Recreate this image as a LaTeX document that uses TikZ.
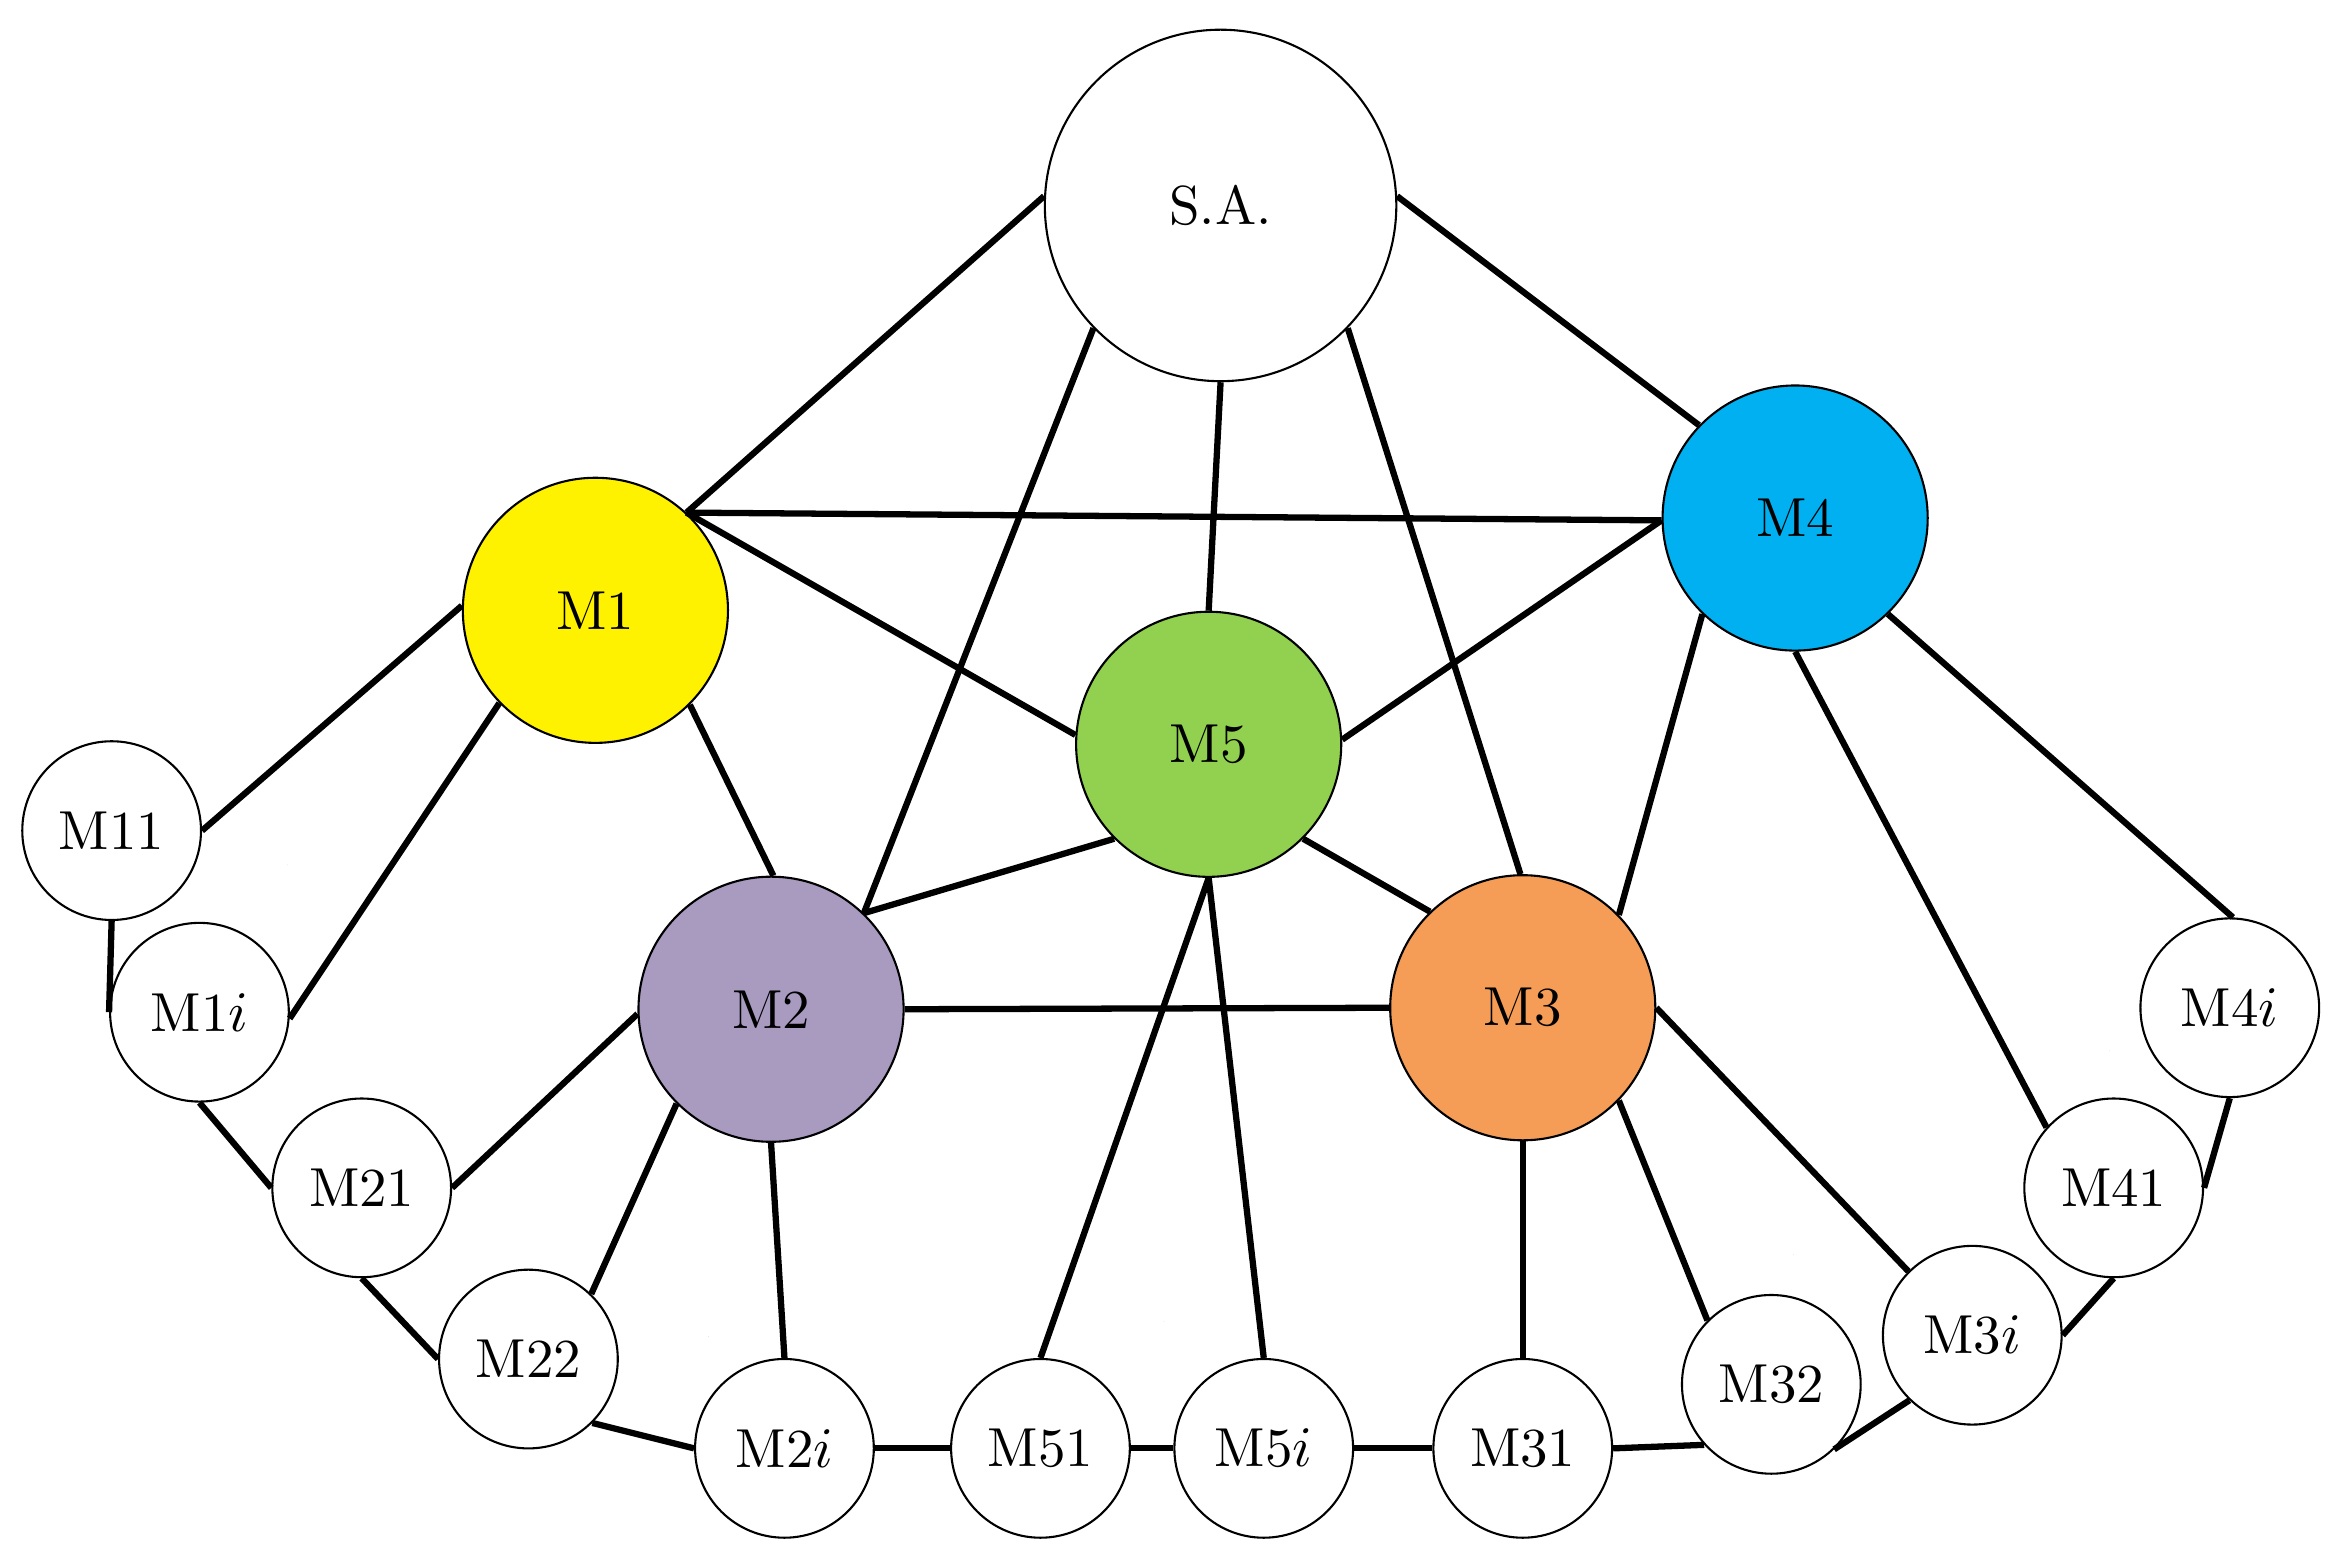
\documentclass[tikz,border=0pt]{standalone}
\begin{document}
\begin{tikzpicture}[x=0.01cm,y=-0.01cm,
  n/.style={circle,draw,line width=0.4pt,inner sep=0pt,font=\fontsize{10.5}{12}\selectfont},
  big/.style={n,minimum size=1.78cm},
  sm/.style={n,minimum size=1.2cm},
  e/.style={line width=1.2pt},
  dots/.pic={\foreach \k in {-1,0,1} \fill (\k*0.11,0) circle (0.025);}]
\useasboundingbox (0,0) rectangle (1568,1050);
\definecolor{cM4}{HTML}{00B0F0}\definecolor{cM5}{HTML}{92D050}
\definecolor{cM2}{HTML}{A99BC0}\definecolor{cM3}{HTML}{F59D57}
\node[n,minimum size=2.36cm] (SA) at (820,138) {S.A.};
\node[big,fill=yellow] (M1) at (400,410) {M1};
\node[big,fill=cM4] (M4) at (1206,348) {M4};
\node[big,fill=cM5] (M5) at (812,500) {M5};
\node[big,fill=cM2] (M2) at (518,678) {M2};
\node[big,fill=cM3] (M3) at (1023,677) {M3};
\node[sm] (M11) at (75,558) {M11};
\node[sm] (M1i) at (134,680) {M1$i$};
\node[sm] (M21) at (243,798) {M21};
\node[sm] (M22) at (355,913) {M22};
\node[sm] (M2i) at (527,973) {M2$i$};
\node[sm] (M51) at (699,973) {M51};
\node[sm] (M5i) at (849,973) {M5$i$};
\node[sm] (M31) at (1023,973) {M31};
\node[sm] (M32) at (1190,930) {M32};
\node[sm] (M3i) at (1325,897) {M3$i$};
\node[sm] (M41) at (1420,798) {M41};
\node[sm] (M4i) at (1498,677) {M4$i$};
\foreach \a/\b in {SA.177/M1.47,SA.3/M4.136,SA.224/M2.46,SA.270/M5.90,SA.316/M3.91,
  M1.47/M4.181,M1.47/M5.176,M1.-45/M2.89,M1.178/M11.0,M1.224/M1i.-4,
  M4.181/M5.2,M4.226/M3.44,M4.270/M41.138,M4.-46/M4i.88,
  M5.225/M2.46,M5.-45/M3.134,M5.270/M51.90,M5.270/M5i.90,
  M2.0/M3.180,M2.182/M21.0,M2.225/M22.46,M2.270/M2i.90,
  M3.270/M31.90,M3.-44/M32.135,M3.0/M3i.135,
  M11.270/M1i.180,M1i.270/M21.180,M21.270/M22.180,M22.-45/M2i.180,
  M2i.0/M51.180,M51.0/M5i.180,M5i.0/M31.180,M31.0/M32.222,
  M32.-46/M3i.226,M3i.0/M41.270,M41.0/M4i.270}
  \draw[e] (\a) -- (\b);
\pic[rotate=-60] (d1) at (193,581) {dots};
\pic[rotate=-20] (d2) at (476,898) {dots};
\pic (d3) at (782,888) {dots};
\pic[rotate=33] (d4) at (1205,843) {dots};
\pic[rotate=45] (d5) at (1417,706) {dots};
\end{tikzpicture}
\end{document}
